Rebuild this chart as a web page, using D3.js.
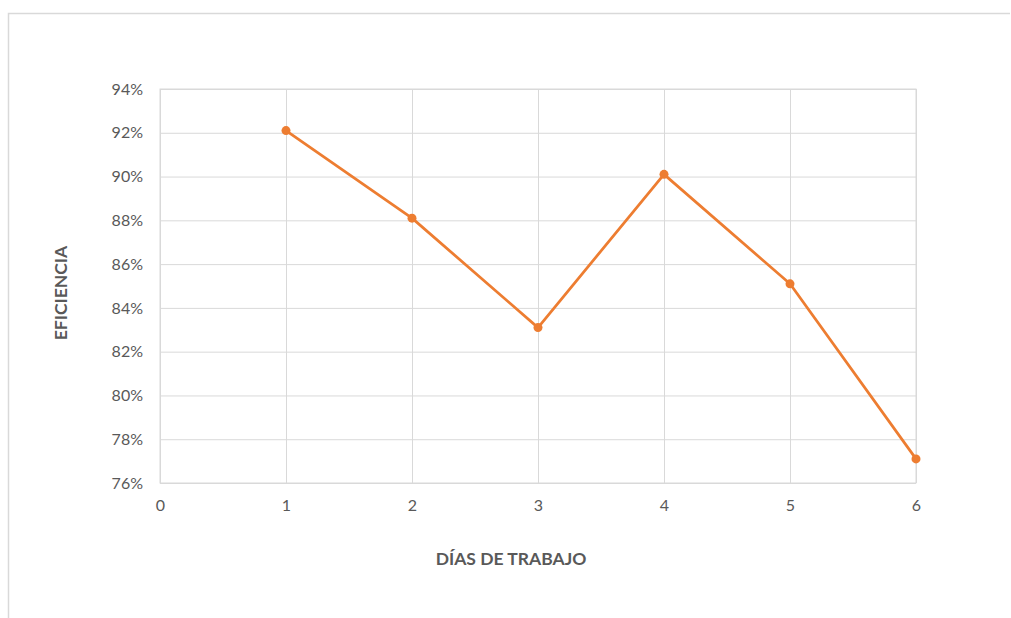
<!DOCTYPE html>
<html>
<head>
<meta charset="utf-8">
<script src="https://cdn.jsdelivr.net/npm/d3@7"></script>
<style>
  html, body { margin: 0; padding: 0; background: #fff; }
  svg { display: block; }
  text { font-family: Lato, "Open Sans", "Liberation Sans", sans-serif; }
</style>
</head>
<body>
<svg id="chart" width="1011" height="618"></svg>
<script>
// Efficiency per working day
const days = [1, 2, 3, 4, 5, 6];
const efficiency = [0.921, 0.881, 0.831, 0.901, 0.851, 0.771];
const xTicks = [0, 1, 2, 3, 4, 5, 6];
const yTicks = [0.76, 0.78, 0.80, 0.82, 0.84, 0.86, 0.88, 0.90, 0.92, 0.94];
const xTitle = "DÍAS DE TRABAJO";
const yTitle = "EFICIENCIA";

const svg = d3.select("#chart");
const W = 1011, H = 618;
const plot = { left: 160, top: 89, right: 916, bottom: 483 };

// Chart frame
svg.append("path")
  .attr("d", `M8.5,${H} V13.5 H1010`)
  .attr("fill", "none")
  .attr("stroke", "#d9d9d9")
  .attr("stroke-width", 1.5);

const x = d3.scaleLinear().domain([0, 6]).range([plot.left, plot.right]);
const y = d3.scaleLinear().domain([0.76, 0.94]).range([plot.bottom, plot.top]);

const grid = "#d9d9d9";

// Horizontal gridlines
svg.append("g")
  .attr("transform", `translate(${plot.left},0)`)
  .call(d3.axisLeft(y).tickValues(yTicks).tickSize(-(plot.right - plot.left)).tickFormat(""))
  .call(g => g.select(".domain").remove())
  .call(g => g.selectAll("line").attr("stroke", grid).attr("stroke-width", 1));

// Vertical gridlines
svg.append("g")
  .attr("transform", `translate(0,${plot.bottom})`)
  .call(d3.axisBottom(x).tickValues(xTicks).tickSize(-(plot.bottom - plot.top)).tickFormat(""))
  .call(g => g.select(".domain").remove())
  .call(g => g.selectAll("line").attr("stroke", grid).attr("stroke-width", 1));

// Plot border
svg.append("rect")
  .attr("x", plot.left).attr("y", plot.top)
  .attr("width", plot.right - plot.left).attr("height", plot.bottom - plot.top)
  .attr("fill", "none").attr("stroke", grid).attr("stroke-width", 1);

// Y tick labels
svg.append("g")
  .attr("transform", `translate(${plot.left},0)`)
  .call(d3.axisLeft(y).tickValues(yTicks).tickSize(0).tickPadding(17).tickFormat(d3.format(".0%")))
  .call(g => g.select(".domain").remove())
  .call(g => g.selectAll("text").attr("fill", "#595959").attr("font-size", 16));

// X tick labels
svg.append("g")
  .attr("transform", `translate(0,${plot.bottom})`)
  .call(d3.axisBottom(x).tickValues(xTicks).tickSize(0).tickPadding(17).tickFormat(d3.format("d")))
  .call(g => g.select(".domain").remove())
  .call(g => g.selectAll("text").attr("fill", "#595959").attr("font-size", 16));

// Axis titles
svg.append("text")
  .attr("x", (plot.left + plot.right) / 2 - 27).attr("y", 565)
  .attr("text-anchor", "middle")
  .attr("font-size", 17.5).attr("font-weight", "bold").attr("fill", "#595959")
  .text(xTitle);

svg.append("text")
  .attr("transform", `translate(67,${(plot.top + plot.bottom) / 2 + 7}) rotate(-90)`)
  .attr("text-anchor", "middle")
  .attr("font-size", 17.5).attr("font-weight", "bold").attr("fill", "#595959")
  .text(yTitle);

// Series
const data = days.map((d, i) => ({ day: d, value: efficiency[i] }));
const color = "#ED7D31";

svg.append("path")
  .datum(data)
  .attr("fill", "none")
  .attr("stroke", color)
  .attr("stroke-width", 2.75)
  .attr("stroke-linejoin", "round")
  .attr("d", d3.line().x(d => x(d.day)).y(d => y(d.value)));

svg.append("g").selectAll("circle")
  .data(data)
  .join("circle")
  .attr("cx", d => x(d.day))
  .attr("cy", d => y(d.value))
  .attr("r", 4.5)
  .attr("fill", color);
</script>
</body>
</html>
